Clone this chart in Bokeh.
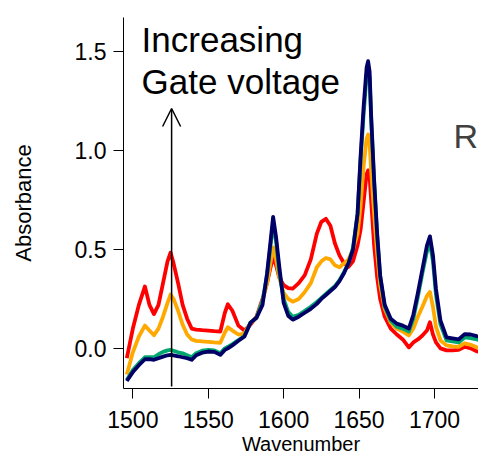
from bokeh.plotting import figure
from bokeh.models import Range1d, FixedTicker, Label, Arrow, OpenHead, PrintfTickFormatter
from bokeh.embed import file_html
from bokeh.resources import INLINE

WAVENUMBER = [1496, 1500, 1504, 1508, 1511, 1514, 1517, 1520, 1523, 1525,
              1527, 1530, 1533, 1536, 1539, 1542, 1546, 1550, 1554, 1558,
              1561, 1563, 1566, 1570, 1574, 1578, 1582, 1586, 1589, 1591,
              1593, 1595, 1597, 1600, 1603, 1606, 1610, 1614, 1618, 1622,
              1625, 1628, 1631, 1634, 1637, 1640, 1643, 1646, 1649, 1651,
              1653, 1655, 1656, 1657, 1658, 1660, 1662, 1664, 1667, 1671,
              1675, 1679, 1683, 1686, 1689, 1692, 1695, 1697, 1699, 1701,
              1704, 1708, 1712, 1716, 1720, 1724, 1728, 1732, 1736, 1740]

RED = [-0.05, 0.10, 0.22, 0.313, 0.22, 0.173, 0.22, 0.33, 0.44, 0.484,
       0.43, 0.33, 0.22, 0.15, 0.10, 0.095, 0.092, 0.09, 0.087, 0.085,
       0.18, 0.223, 0.19, 0.115, 0.09, 0.12, 0.16, 0.25, 0.33, 0.40,
       0.462, 0.42, 0.36, 0.32, 0.305, 0.302, 0.33, 0.37, 0.45, 0.58,
       0.64, 0.655, 0.62, 0.53, 0.47, 0.43, 0.412, 0.44, 0.52, 0.60,
       0.74, 0.88, 0.90, 0.87, 0.75, 0.52, 0.36, 0.25, 0.16, 0.10,
       0.07, 0.045, 0.005, 0.03, 0.045, 0.065, 0.09, 0.132, 0.07, 0.03,
       0.0, -0.01, -0.01, -0.008, 0.008, 0.0, -0.015, -0.02, -0.03, -0.038]

ORANGE = [-0.132, -0.02, 0.06, 0.115, 0.09, 0.066, 0.10, 0.16, 0.23, 0.272,
          0.25, 0.19, 0.12, 0.07, 0.045, 0.038, 0.035, 0.033, 0.03, 0.028,
          0.08, 0.107, 0.09, 0.07, 0.075, 0.13, 0.155, 0.24, 0.33, 0.42,
          0.511, 0.45, 0.36, 0.28, 0.25, 0.236, 0.25, 0.285, 0.33, 0.41,
          0.44, 0.457, 0.45, 0.42, 0.41, 0.43, 0.45, 0.50, 0.58, 0.72,
          0.92, 1.06, 1.081, 1.04, 0.90, 0.68, 0.48, 0.32, 0.20, 0.13,
          0.10, 0.085, 0.065, 0.10, 0.16, 0.21, 0.265, 0.285, 0.21, 0.11,
          0.04, 0.015, 0.01, 0.008, 0.025, 0.018, 0.005, -0.005, -0.012, -0.022]

GREEN = [-0.16, -0.11, -0.075, -0.045, -0.045, -0.045, -0.03, -0.018, -0.01, -0.008,
         -0.012, -0.02, -0.025, -0.035, -0.045, -0.025, -0.012, -0.008, -0.01, -0.025,
         0.0, 0.008, 0.022, 0.042, 0.062, 0.13, 0.155, 0.24, 0.37, 0.50,
         0.63, 0.54, 0.39, 0.25, 0.185, 0.16, 0.17, 0.19, 0.21, 0.235,
         0.255, 0.275, 0.295, 0.315, 0.345, 0.385, 0.43, 0.51, 0.68, 0.95,
         1.18, 1.38, 1.41, 1.37, 1.16, 0.84, 0.57, 0.36, 0.21, 0.14,
         0.11, 0.10, 0.085, 0.15, 0.26, 0.38, 0.49, 0.53, 0.44, 0.27,
         0.12, 0.04, 0.035, 0.03, 0.055, 0.052, 0.045, 0.038, 0.03, 0.015]

NAVY = [-0.165, -0.12, -0.085, -0.055, -0.055, -0.058, -0.05, -0.042, -0.035, -0.033,
        -0.036, -0.04, -0.045, -0.05, -0.058, -0.035, -0.022, -0.016, -0.018, -0.033,
        -0.008, 0.0, 0.015, 0.038, 0.06, 0.13, 0.155, 0.22, 0.38, 0.52,
        0.665, 0.56, 0.42, 0.23, 0.165, 0.145, 0.16, 0.18, 0.20, 0.225,
        0.25, 0.27, 0.29, 0.31, 0.34, 0.38, 0.43, 0.50, 0.68, 0.97,
        1.22, 1.42, 1.452, 1.40, 1.18, 0.85, 0.58, 0.37, 0.22, 0.15,
        0.125, 0.115, 0.10, 0.17, 0.28, 0.40, 0.52, 0.566, 0.47, 0.30,
        0.14, 0.055, 0.05, 0.045, 0.072, 0.07, 0.062, 0.055, 0.045, 0.03]

SERIES = [("red", RED, "#FF0000"),
          ("orange", ORANGE, "#FFA800"),
          ("green", GREEN, "#00A870"),
          ("navy", NAVY, "#000066")]

X_TICKS = [1500, 1550, 1600, 1650, 1700]
Y_TICKS = [0.0, 0.5, 1.0, 1.5]

FONT = "Liberation Sans"

p = figure(width=478, height=457, output_backend="svg", toolbar_location=None,
           x_range=Range1d(1493.8, 1729.2), y_range=Range1d(-0.203, 1.673),
           min_border_left=123, min_border_right=0, min_border_top=17, min_border_bottom=64)
p.outline_line_color = None
p.grid.visible = False
p.background_fill_color = "white"
p.border_fill_color = "white"

for name, ys, color in SERIES:
    p.line(WAVENUMBER, ys, line_color=color, line_width=3.8, line_join="round")

for ax in (p.xaxis[0], p.yaxis[0]):
    ax.minor_tick_line_color = None
    ax.major_tick_in = 0
    ax.major_tick_out = 10
    ax.major_tick_line_color = "black"
    ax.axis_line_color = "black"
    ax.axis_line_width = 1
    ax.major_label_text_font = FONT
    ax.major_label_text_font_size = "23px"
    ax.major_label_text_color = "black"
    ax.axis_label_text_font = FONT
    ax.axis_label_text_font_style = "normal"
    ax.axis_label_text_color = "black"

p.xaxis.ticker = FixedTicker(ticks=X_TICKS)
p.xaxis.major_label_standoff = 12
p.xaxis.axis_label = "Wavenumber"
p.xaxis.axis_label_text_font_size = "20px"
p.xaxis.axis_label_standoff = 2

p.yaxis.ticker = FixedTicker(ticks=Y_TICKS)
p.yaxis.formatter = PrintfTickFormatter(format="%.1f")
p.yaxis.major_label_standoff = 7
p.yaxis.axis_label = "Absorbance"
p.yaxis.axis_label_text_font_size = "22px"
p.yaxis.axis_label_standoff = 36

p.add_layout(Arrow(end=OpenHead(size=18, line_width=1.5, line_color="black"),
                   x_start=1525.7, y_start=-0.193, x_end=1525.7, y_end=1.213,
                   line_width=1.5, line_color="black"))

p.add_layout(Label(x=1505.8, y=1.564, text="Increasing", text_baseline="alphabetic",
                   text_font=FONT, text_font_size="35px", text_color="black"))
p.add_layout(Label(x=1505.8, y=1.347, text="Gate voltage", text_baseline="alphabetic",
                   text_font=FONT, text_font_size="35px", text_color="black"))
p.add_layout(Label(x=1712.6, y=1.074, text="R", text_baseline="alphabetic",
                   text_font=FONT, text_font_size="34px", text_color="#404040"))

open("out.html", "w").write(file_html(p, INLINE))
